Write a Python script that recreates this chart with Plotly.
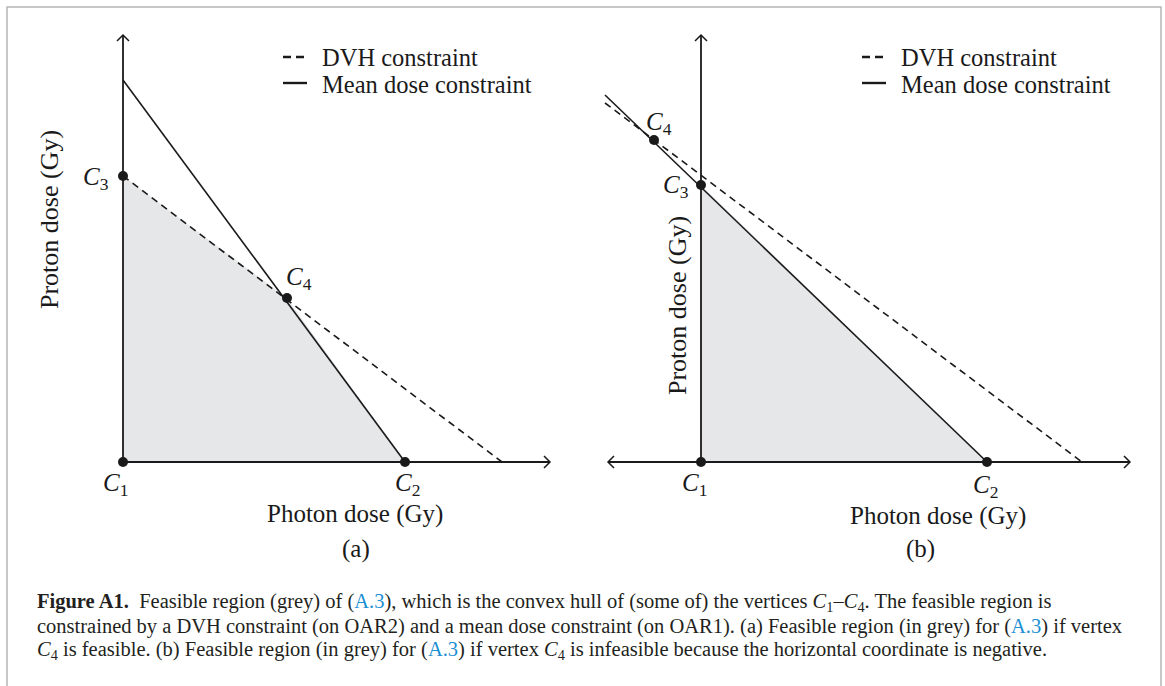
import plotly.graph_objects as go

W, H = 1165, 686

# ---- data (dose units, arbitrary) ----
# panel (a)
a_vertices = {"C1": (0.0, 0.0), "C2": (28.2, 0.0), "C3": (0.0, 28.6), "C4": (16.4, 16.4)}
a_mean_x = [0.0, 28.2]
a_mean_y = [38.2, 0.0]
a_dvh_x = [0.0, 37.9]
a_dvh_y = [28.6, 0.0]
a_xaxis_end = 42.7
a_yaxis_end = 42.7
a_xaxis_start = 0.0

# panel (b)
b_vertices = {"C1": (0.0, 0.0), "C2": (28.6, 0.0), "C3": (0.0, 27.7), "C4": (-4.7, 32.2)}
b_mean_x = [-9.6, 28.6]
b_mean_y = [36.7, 0.0]
b_dvh_x = [-9.6, 38.1]
b_dvh_y = [35.9, 0.0]
b_xaxis_end = 42.9
b_yaxis_end = 42.7
b_xaxis_start = -9.3

a_feasible = ["C1", "C2", "C4", "C3"]
b_feasible = ["C1", "C2", "C3"]

FONT = "Liberation Serif"
BLACK = "#1a1a1a"
FILL = "#e6e7e9"

fig = go.Figure()

def px2fx(px):
    return px / W

def py2fy(py):
    return 1 - py / H

# axes: 10 px per unit, origin at pixel positions
def setup_axes(n, ox, oy, pxl, pxr, pyt, pyb):
    xr = [(pxl - ox) / 10.0, (pxr - ox) / 10.0]
    yr = [(oy - pyb) / 10.0, (oy - pyt) / 10.0]
    sfx = "" if n == 1 else str(n)
    fig.update_layout(**{
        "xaxis" + sfx: dict(domain=[px2fx(pxl), px2fx(pxr)], range=xr, visible=False,
                            anchor="y" + sfx, fixedrange=True),
        "yaxis" + sfx: dict(domain=[py2fy(pyb), py2fy(pyt)], range=yr, visible=False,
                            anchor="x" + sfx, fixedrange=True),
    })

setup_axes(1, 123, 462, 60, 580, 20, 500)
setup_axes(2, 701, 462, 590, 1150, 20, 500)

def panel(xa, ya, verts, feas, mean_x, mean_y, dvh_x, dvh_y, xs, xe, ye, left_arrow):
    # feasible region
    fx = [verts[k][0] for k in feas] + [verts[feas[0]][0]]
    fy = [verts[k][1] for k in feas] + [verts[feas[0]][1]]
    fig.add_trace(go.Scatter(x=fx, y=fy, fill="toself", fillcolor=FILL, mode="none",
                             xaxis=xa, yaxis=ya, showlegend=False, hoverinfo="skip"))
    # constraint lines
    fig.add_trace(go.Scatter(x=dvh_x, y=dvh_y, mode="lines",
                             line=dict(color=BLACK, width=1.6, dash="7px,5px"),
                             xaxis=xa, yaxis=ya, showlegend=False, hoverinfo="skip"))
    fig.add_trace(go.Scatter(x=mean_x, y=mean_y, mode="lines",
                             line=dict(color=BLACK, width=1.6),
                             xaxis=xa, yaxis=ya, showlegend=False, hoverinfo="skip"))
    # axes
    fig.add_trace(go.Scatter(x=[xs, xe], y=[0, 0], mode="lines",
                             line=dict(color=BLACK, width=2.2),
                             xaxis=xa, yaxis=ya, showlegend=False, hoverinfo="skip"))
    fig.add_trace(go.Scatter(x=[0, 0], y=[0, ye], mode="lines",
                             line=dict(color=BLACK, width=1.8),
                             xaxis=xa, yaxis=ya, showlegend=False, hoverinfo="skip"))
    # arrowheads (open V)
    h = 0.6
    heads = [
        ([xe - h, xe, xe - h], [h, 0, -h]),
        ([-h, 0, h], [ye - h, ye, ye - h]),
    ]
    if left_arrow:
        heads.append(([xs + h, xs, xs + h], [h, 0, -h]))
    for hx, hy in heads:
        fig.add_trace(go.Scatter(x=hx, y=hy, mode="lines",
                                 line=dict(color=BLACK, width=1.5),
                                 xaxis=xa, yaxis=ya, showlegend=False, hoverinfo="skip"))
    # vertices
    names = list(verts.keys())
    fig.add_trace(go.Scatter(x=[verts[k][0] for k in names], y=[verts[k][1] for k in names],
                             mode="markers", marker=dict(color=BLACK, size=10),
                             xaxis=xa, yaxis=ya, showlegend=False, hoverinfo="skip"))

panel("x", "y", a_vertices, a_feasible, a_mean_x, a_mean_y, a_dvh_x, a_dvh_y,
      a_xaxis_start, a_xaxis_end, a_yaxis_end, False)
panel("x2", "y2", b_vertices, b_feasible, b_mean_x, b_mean_y, b_dvh_x, b_dvh_y,
      b_xaxis_start, b_xaxis_end, b_yaxis_end, True)

ann = []

def label(xa, ya, key, verts, dx, dy):
    x, y = verts[key]
    ann.append(dict(x=x, y=y, xref=xa, yref=ya, showarrow=False,
                    xshift=dx, yshift=-dy,
                    text="<i>C</i><sub>%s</sub>" % key[1],
                    font=dict(family=FONT, size=25, color=BLACK)))

for key, (dx, dy) in {"C1": (-8, 22), "C2": (2, 22), "C3": (-27, 2), "C4": (12, -20)}.items():
    label("x", "y", key, a_vertices, dx, dy)
for key, (dx, dy) in {"C1": (-7, 22), "C2": (-2, 24), "C3": (-25, 1), "C4": (5, -17)}.items():
    label("x2", "y2", key, b_vertices, dx, dy)

def ptext(px, py, text, size=25, angle=0, xanchor="center"):
    ann.append(dict(x=px2fx(px), y=py2fy(py), xref="paper", yref="paper", showarrow=False,
                    text=text, textangle=angle, xanchor=xanchor, yanchor="middle",
                    font=dict(family=FONT, size=size, color=BLACK)))

# axis titles
ptext(355, 514, "Photon dose (Gy)")
ptext(938, 516, "Photon dose (Gy)")
ptext(50, 220, "Proton dose (Gy)", size=26, angle=-90)
ptext(678, 306, "Proton dose (Gy)", size=26, angle=-90)
ptext(356, 549, "(a)")
ptext(920, 549, "(b)")

# legends
shapes = []
for lx, tx in [(283, 320), (862, 899)]:
    shapes.append(dict(type="line", xref="paper", yref="paper",
                       x0=px2fx(lx), x1=px2fx(lx + 24), y0=py2fy(57), y1=py2fy(57),
                       line=dict(color=BLACK, width=2.4, dash="8px,5px")))
    shapes.append(dict(type="line", xref="paper", yref="paper",
                       x0=px2fx(lx), x1=px2fx(lx + 24), y0=py2fy(83), y1=py2fy(83),
                       line=dict(color=BLACK, width=2.4)))
    ptext(tx, 57, "DVH constraint", size=24.5, xanchor="left")
    ptext(tx, 84, "Mean dose constraint", size=24.5, xanchor="left")

# outer frame
shapes.append(dict(type="rect", xref="paper", yref="paper",
                   x0=px2fx(7), x1=px2fx(1161), y0=py2fy(700), y1=py2fy(7),
                   line=dict(color="#b5b5b5", width=1.5)))

# caption
BLUE = "#1b8fd2"
ref = '(<span style="color:%s">A.3</span>)' % BLUE
cap_lines = [
    "<b>Figure A1.</b>  Feasible region (grey) of " + ref +
    ", which is the convex hull of (some of) the vertices <i>C</i><sub>1</sub>–<i>C</i><sub>4</sub>. The feasible region is",
    "constrained by a DVH constraint (on OAR2) and a mean dose constraint (on OAR1). (a) Feasible region (in grey) for " +
    ref + " if vertex",
    "<i>C</i><sub>4</sub> is feasible. (b) Feasible region (in grey) for " + ref +
    " if vertex <i>C</i><sub>4</sub> is infeasible because the horizontal coordinate is negative.",
]
for i, line in enumerate(cap_lines):
    ann.append(dict(x=px2fx(35), y=py2fy(602 + 24 * i), xref="paper", yref="paper",
                    showarrow=False, xanchor="left", yanchor="middle", text=line,
                    font=dict(family=FONT, size=20.5, color="#231f20")))

fig.update_layout(width=W, height=H, margin=dict(l=0, r=0, t=0, b=0),
                  paper_bgcolor="white", plot_bgcolor="rgba(0,0,0,0)",
                  annotations=ann, shapes=shapes, showlegend=False)

fig.write_html("out.html", config={"displayModeBar": False})
